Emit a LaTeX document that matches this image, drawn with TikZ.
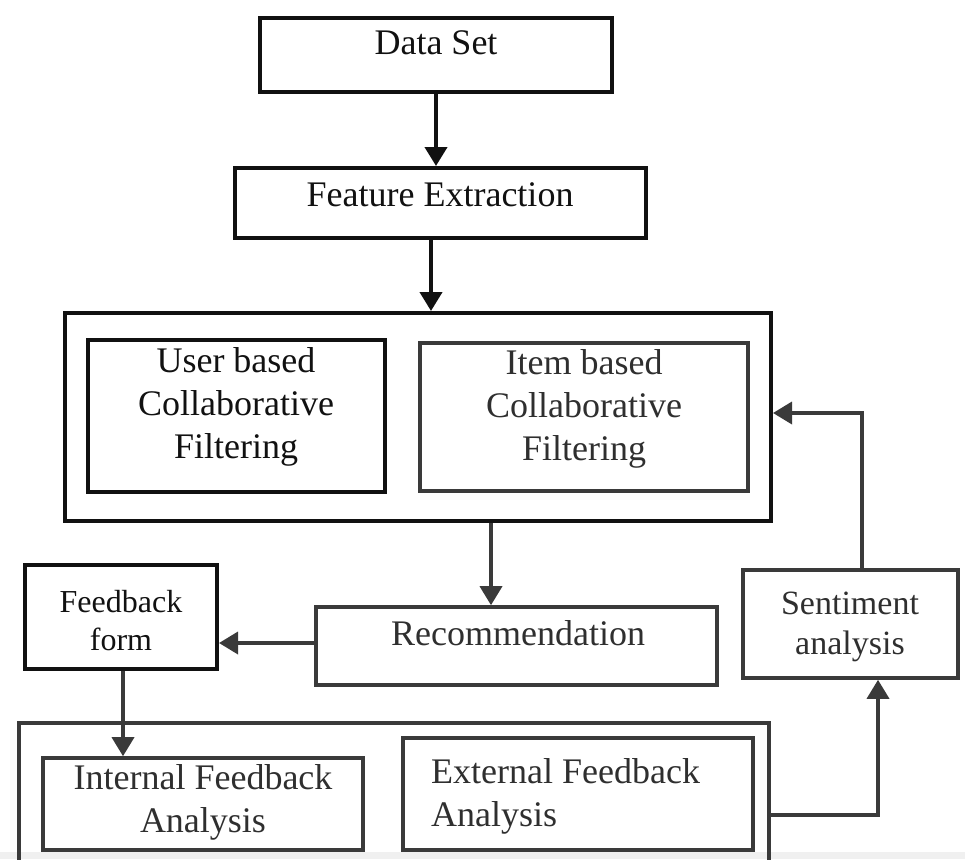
\documentclass[tikz,border=0pt]{standalone}
\usepackage{fontspec}
\setmainfont{Liberation Serif}
\usetikzlibrary{arrows.meta}
\definecolor{ink}{HTML}{111111}
\definecolor{grayink}{HTML}{3A3A3A}
\definecolor{graytext}{HTML}{2F2F2F}
\begin{document}
\begin{tikzpicture}[x=1pt,y=-1pt,
  box/.style={draw=ink, line width=4pt, rectangle, inner sep=0pt},
  gbox/.style={box, draw=grayink, line width=3.6pt},
  lbl/.style={font=\fontsize{36}{43}\selectfont, text=ink, align=center, inner sep=0pt},
  glbl/.style={lbl, text=graytext},
  flow/.style={draw=ink, line width=4pt, -{Triangle[length=19pt,width=22pt]}},
  gflow/.style={flow, draw=grayink, line width=3.6pt}
]
\useasboundingbox (0,0) rectangle (965,859);
\clip (0,0) rectangle (965,859);
% faint strip along the lower edge
\fill[black!6] (0,852) rectangle (965,859);

% ---- boxes ----
\node[box, minimum width=352, minimum height=74] (ds) at (436,55) {};
\node[box, minimum width=411, minimum height=70] (fe) at (440.5,203) {};
\node[box, minimum width=706, minimum height=208] (cf) at (418,417) {};
\node[box, minimum width=297, minimum height=152] (ub) at (236.5,416) {};
\node[gbox, minimum width=328, minimum height=148] (ib) at (584,417) {};
\node[gbox, minimum width=401, minimum height=78] (rec) at (516.5,646) {};
\node[box, minimum width=192, minimum height=104] (ff) at (121,617) {};
\node[gbox, minimum width=215, minimum height=108] (sa) at (850.5,624) {};
\node[gbox, minimum width=750, minimum height=177] (fb) at (394,811.5) {};
\node[gbox, minimum width=320, minimum height=92] (ifa) at (203,804) {};
\node[gbox, minimum width=350, minimum height=112] (efa) at (578,794) {};

% ---- labels ----
\node[lbl] (ds-t) at (436,43) {Data Set};
\node[lbl] (fe-t) at (440,195) {Feature Extraction};
\node[lbl] (ub-t) at (236,407) {User based\\Collaborative\\Filtering};
\node[glbl] (ib-t) at (584,409) {Item based\\Collaborative\\Filtering};
\node[glbl] (rec-t) at (518,633) {Recommendation};
\node[lbl, font=\fontsize{32}{38}\selectfont] (ff-t) at (121,621) {Feedback\\form};
\node[glbl, font=\fontsize{34}{40}\selectfont] (sa-t) at (850,627) {Sentiment\\analysis};
\node[glbl] (ifa-t) at (203,802) {Internal Feedback\\Analysis};
\node[glbl, align=left, anchor=west] (efa-t) at (431,796) {External Feedback\\Analysis};

% ---- connectors ----
\coordinate (a2) at (431,0);
\coordinate (a3) at (491,0);
\coordinate (a4) at (0,643);
\coordinate (a5) at (123,0);
\coordinate (a6) at (878,815);
\coordinate (a7) at (862,413);

\draw[flow] (ds.south) -- (ds.south |- fe.north);
\draw[flow] (a2 |- fe.south) -- (a2 |- cf.north);
\draw[gflow] (a3 |- cf.south) -- (a3 |- rec.north);
\draw[gflow] (a4 -| rec.west) -- (a4 -| ff.east);
\draw[gflow] (a5 |- ff.south) -- (a5 |- ifa.north);
\draw[gflow] (a6 -| fb.east) -- (a6) -- (a6 |- sa.south);
\draw[gflow] (a7 |- sa.north) -- (a7) -- (a7 -| cf.east);
\end{tikzpicture}
\end{document}
